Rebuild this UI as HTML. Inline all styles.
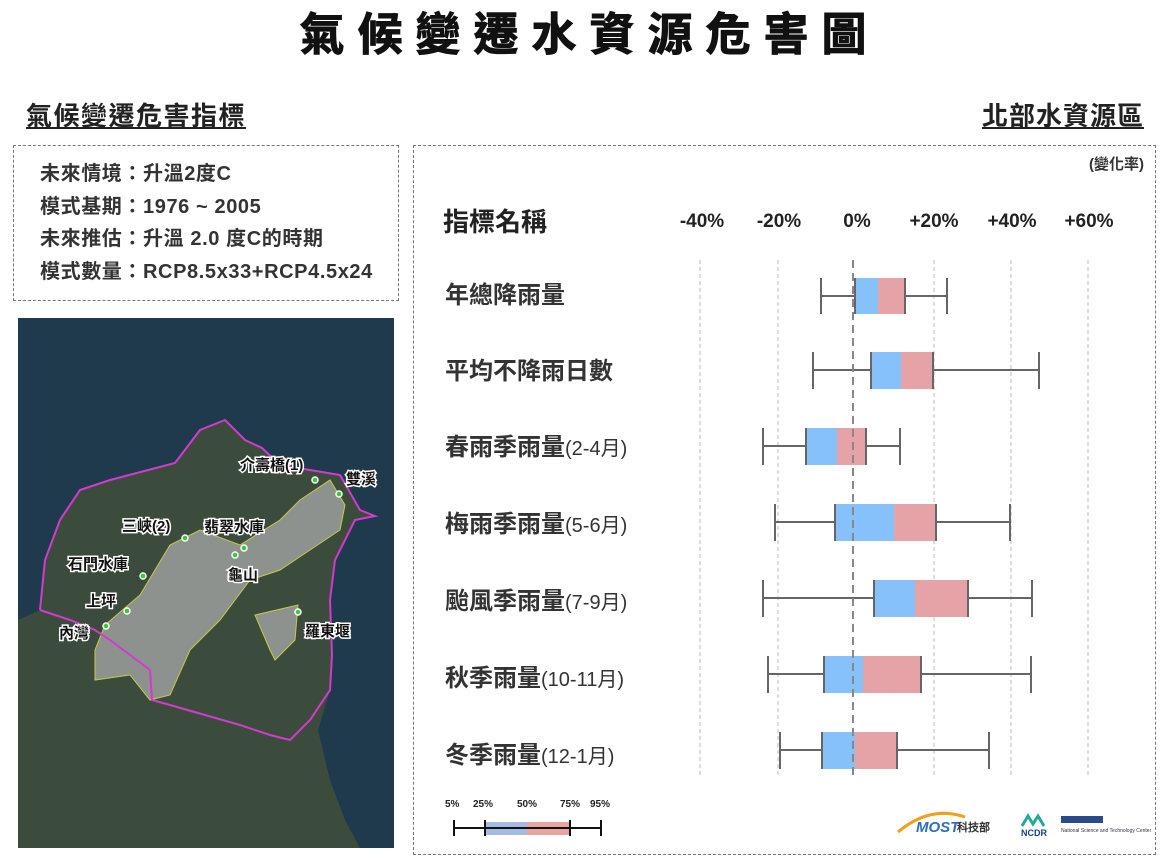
<!DOCTYPE html>
<html><head><meta charset="utf-8"><style>
body{margin:0;width:1166px;height:856px;background:#fff;font-family:"Liberation Sans","Noto Sans CJK TC",sans-serif;position:relative;overflow:hidden;color:#222}
.a{position:absolute;white-space:nowrap}
.b{font-weight:bold}
</style></head><body>
<div class="a b" style="left:0;width:1166px;text-align:center;top:-2px;font-size:45px;letter-spacing:13px;text-indent:13px;color:#111;-webkit-text-stroke:1px #111">氣候變遷水資源危害圖</div>
<div class="a b" style="left:26px;top:96px;font-size:26px;letter-spacing:1.5px;text-decoration:underline">氣候變遷危害指標</div>
<div class="a b" style="right:22px;top:96px;font-size:26px;letter-spacing:1px;text-decoration:underline">北部水資源區</div>
<div class="a" style="left:13px;top:145px;width:384px;height:154px;border:1.5px dashed #777"></div>
<div class="a b" style="left:40px;top:158px;font-size:20px;line-height:32.5px;letter-spacing:0.6px;color:#333">未來情境：升溫2度C<br>模式基期：1976 ~ 2005<br>未來推估：升溫 2.0 度C的時期<br>模式數量：RCP8.5x33+RCP4.5x24</div>
<div class="a" style="left:413px;top:145px;width:741px;height:708px;border:1.5px dashed #777"></div>
<div class="a b" style="right:22px;top:153px;font-size:15px;color:#333">(變化率)</div>
<div class="a b" style="left:443px;top:202px;font-size:26px">指標名稱</div>
<svg class="a" style="left:0;top:0" width="1166" height="856">
<g font-family="Liberation Sans" font-weight="bold" font-size="19" fill="#222" text-anchor="middle">
<text x="702" y="227">-40%</text><text x="779" y="227">-20%</text><text x="857" y="227">0%</text><text x="934" y="227">+20%</text><text x="1012" y="227">+40%</text><text x="1089" y="227">+60%</text></g>
<g stroke="#bbb" stroke-dasharray="4,3" stroke-width="1">
<line x1="700" y1="260" x2="700" y2="775"/><line x1="778" y1="260" x2="778" y2="775"/><line x1="934" y1="260" x2="934" y2="775"/><line x1="1011" y1="260" x2="1011" y2="775"/><line x1="1088" y1="260" x2="1088" y2="775"/></g>
<g stroke="#666" stroke-width="2">
<g><line x1="821" y1="296" x2="947" y2="296"/><rect x="855" y="278" width="23" height="36" fill="#86c1fb" stroke="none"/><rect x="878" y="278" width="27" height="36" fill="#e5a3a8" stroke="none"/><line x1="821" y1="278" x2="821" y2="314"/><line x1="947" y1="278" x2="947" y2="314"/><line x1="855" y1="278" x2="855" y2="314"/><line x1="905" y1="278" x2="905" y2="314"/></g>
<g><line x1="813" y1="370" x2="1039" y2="370"/><rect x="871" y="352" width="30" height="37" fill="#86c1fb" stroke="none"/><rect x="901" y="352" width="32" height="37" fill="#e5a3a8" stroke="none"/><line x1="813" y1="352" x2="813" y2="389"/><line x1="1039" y1="352" x2="1039" y2="389"/><line x1="871" y1="352" x2="871" y2="389"/><line x1="933" y1="352" x2="933" y2="389"/></g>
<g><line x1="763" y1="446" x2="900" y2="446"/><rect x="806" y="428" width="31" height="37" fill="#86c1fb" stroke="none"/><rect x="837" y="428" width="29" height="37" fill="#e5a3a8" stroke="none"/><line x1="763" y1="428" x2="763" y2="465"/><line x1="900" y1="428" x2="900" y2="465"/><line x1="806" y1="428" x2="806" y2="465"/><line x1="866" y1="428" x2="866" y2="465"/></g>
<g><line x1="775" y1="522" x2="1010" y2="522"/><rect x="835" y="504" width="59" height="37" fill="#86c1fb" stroke="none"/><rect x="894" y="504" width="42" height="37" fill="#e5a3a8" stroke="none"/><line x1="775" y1="504" x2="775" y2="541"/><line x1="1010" y1="504" x2="1010" y2="541"/><line x1="835" y1="504" x2="835" y2="541"/><line x1="936" y1="504" x2="936" y2="541"/></g>
<g><line x1="763" y1="598" x2="1032" y2="598"/><rect x="874" y="580" width="41" height="37" fill="#86c1fb" stroke="none"/><rect x="915" y="580" width="53" height="37" fill="#e5a3a8" stroke="none"/><line x1="763" y1="580" x2="763" y2="617"/><line x1="1032" y1="580" x2="1032" y2="617"/><line x1="874" y1="580" x2="874" y2="617"/><line x1="968" y1="580" x2="968" y2="617"/></g>
<g><line x1="768" y1="674" x2="1031" y2="674"/><rect x="824" y="656" width="39" height="37" fill="#86c1fb" stroke="none"/><rect x="863" y="656" width="58" height="37" fill="#e5a3a8" stroke="none"/><line x1="768" y1="656" x2="768" y2="693"/><line x1="1031" y1="656" x2="1031" y2="693"/><line x1="824" y1="656" x2="824" y2="693"/><line x1="921" y1="656" x2="921" y2="693"/></g>
<g><line x1="780" y1="750" x2="989" y2="750"/><rect x="822" y="732" width="33" height="37" fill="#86c1fb" stroke="none"/><rect x="855" y="732" width="42" height="37" fill="#e5a3a8" stroke="none"/><line x1="780" y1="732" x2="780" y2="769"/><line x1="989" y1="732" x2="989" y2="769"/><line x1="822" y1="732" x2="822" y2="769"/><line x1="897" y1="732" x2="897" y2="769"/></g>
</g>
<line x1="853" y1="260" x2="853" y2="775" stroke="#888" stroke-width="2" stroke-dasharray="8,5"/>
<g font-family="Liberation Sans" font-size="10" fill="#222" font-weight="bold"><text x="445" y="807">5%</text><text x="473" y="807">25%</text><text x="517" y="807">50%</text><text x="560" y="807">75%</text><text x="590" y="807">95%</text></g>
<rect x="485" y="822" width="42" height="13" fill="#a4bbe2"/><rect x="527" y="822" width="43" height="13" fill="#e9a5a2"/>
<g stroke="#111" stroke-width="2"><line x1="454" y1="828" x2="601" y2="828"/><line x1="454" y1="820" x2="454" y2="836"/><line x1="485" y1="820" x2="485" y2="836"/><line x1="570" y1="820" x2="570" y2="836"/><line x1="601" y1="820" x2="601" y2="836"/></g>
<g font-family="Liberation Sans" font-weight="bold"><path d="M898 832 Q930 805 965 817" stroke="#f0a020" stroke-width="3" fill="none"/><text x="916" y="832" font-size="15" fill="#2d6fbf" font-style="italic">MOST</text><text x="957" y="831" font-size="11" fill="#333">科技部</text>
<text x="1021" y="836" font-size="9" fill="#1a3f8c">NCDR</text><path d="M1022 826 l6-10 l5 8 l5-8 l6 10" stroke="#2a9" stroke-width="3" fill="none"/><rect x="1061" y="816" width="42" height="7" fill="#2b4a8c"/><text x="1061" y="832" font-size="5" fill="#334" font-weight="normal">National Science and Technology Center</text></g>
</svg>
<div class="a b" style="left:445px;top:258px;font-size:24px;line-height:76px;color:#333">年總降雨量<br>平均不降雨日數<br>春雨季雨量<span style="font-weight:normal;font-size:20px">(2-4月)</span><br>梅雨季雨量<span style="font-weight:normal;font-size:20px">(5-6月)</span><br>颱風季雨量<span style="font-weight:normal;font-size:20px">(7-9月)</span><br>秋季雨量<span style="font-weight:normal;font-size:20px">(10-11月)</span><br>冬季雨量<span style="font-weight:normal;font-size:20px">(12-1月)</span></div>
<svg class="a" style="left:18px;top:318px" width="376" height="530" viewBox="18 318 376 530">
<rect x="18" y="318" width="376" height="530" fill="#1e3a4c"/>
<polygon points="18,620 40,610 45,560 60,520 80,490 110,480 175,463 200,430 225,420 245,440 262,448 280,465 310,470 340,475 360,510 375,516 355,520 335,560 330,600 332,655 330,690 318,730 330,780 345,820 360,848 18,848" fill="#3c4c3c"/>
<polygon points="95,650 105,625 140,595 170,545 200,530 240,545 280,520 300,500 330,480 345,505 340,530 310,550 280,570 250,580 220,620 190,650 170,695 150,700 130,675 95,680" fill="#8d928e" stroke="#c8c84a" stroke-width="1"/>
<polygon points="255,615 298,605 295,640 275,660 270,650" fill="#8d928e" stroke="#c8c84a" stroke-width="1"/>
<polyline points="40,610 45,560 60,520 80,490 110,480 175,463 200,430 225,420 245,440 262,448 280,465 310,470 340,475 360,510 375,516 355,520 335,560 330,600 332,655 330,690 310,720 290,740 270,735 240,725 205,715 170,705 152,700 150,670 130,655 110,640 95,630 70,620 40,610" fill="none" stroke="#d23ad0" stroke-width="2"/>
<g fill="#3c3" stroke="#fff" stroke-width="1.5"><circle cx="315" cy="480" r="3"/><circle cx="339" cy="494" r="3"/><circle cx="185" cy="538" r="3"/><circle cx="244" cy="548" r="3"/><circle cx="235" cy="555" r="3"/><circle cx="143" cy="576" r="3"/><circle cx="127" cy="611" r="3"/><circle cx="106" cy="626" r="3"/><circle cx="298" cy="612" r="3"/></g>
<g font-family="Liberation Sans,Noto Sans CJK TC,sans-serif" font-size="15" fill="#111" stroke="#fff" stroke-width="3" paint-order="stroke" font-weight="bold">
<text x="240" y="470">介壽橋(1)</text><text x="346" y="484">雙溪</text><text x="122" y="531">三峽(2)</text><text x="204" y="532">翡翠水庫</text><text x="68" y="569">石門水庫</text><text x="228" y="580">龜山</text><text x="86" y="606">上坪</text><text x="59" y="638">內灣</text><text x="305" y="636">羅東堰</text></g>
</svg>
</body></html>
